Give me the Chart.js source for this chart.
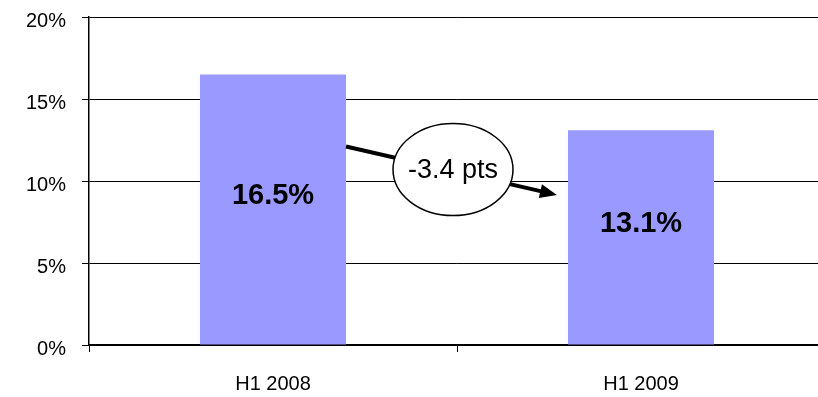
<!DOCTYPE html>
<html>
<head>
<meta charset="utf-8">
<script src="https://cdn.jsdelivr.net/npm/chart.js@4"></script>
<style>
  html, body { margin: 0; padding: 0; background: #fff; overflow: hidden; }
  #wrap { width: 840px; height: 397px; }
</style>
</head>
<body>
<div id="wrap"><canvas id="chart"></canvas></div>
<script>
// Chart data
const categories = ['H1 2008', 'H1 2009'];
const shares = [16.5, 13.1];
const yTicks = [0, 5, 10, 15, 20];
const changeLabel = '-3.4 pts';
// arrow start/end heights and bubble height, in axis units
const arrowFrom = 12.1;
const arrowTo = 9.15;
const bubbleAt = 10.7;

const FONT = "'Liberation Sans', Arial, sans-serif";

// Draws value labels, the change bubble and the arrow
const annotations = {
    id: 'annotations',
    afterDatasetsDraw(chart) {
        const ctx = chart.ctx;
        const y = chart.scales.y;
        const bars = chart.getDatasetMeta(0).data;

        // value labels inside bars
        ctx.save();
        ctx.fillStyle = '#000';
        ctx.font = 'bold 29px ' + FONT;
        ctx.textAlign = 'center';
        ctx.textBaseline = 'middle';
        bars.forEach((bar, i) => {
            const mid = (bar.y + bar.base) / 2 - 13;
            ctx.fillText(shares[i].toFixed(1) + '%', bar.x, mid);
        });
        ctx.restore();

        // arrow between bars
        const b1 = bars[0], b2 = bars[1];
        const x0 = b1.x + b1.width / 2;
        const y0 = y.getPixelForValue(arrowFrom);
        const x1 = b2.x - b2.width / 2 - 11;
        const y1 = y.getPixelForValue(arrowTo);
        const ang = Math.atan2(y1 - y0, x1 - x0);
        const headLen = 17, headW = 7;
        ctx.save();
        ctx.strokeStyle = '#000';
        ctx.fillStyle = '#000';
        ctx.lineWidth = 4;
        ctx.beginPath();
        ctx.moveTo(x0, y0);
        ctx.lineTo(x1 - Math.cos(ang) * headLen * 0.8, y1 - Math.sin(ang) * headLen * 0.8);
        ctx.stroke();
        ctx.beginPath();
        ctx.moveTo(x1, y1);
        ctx.lineTo(x1 - Math.cos(ang) * headLen - Math.sin(ang) * headW,
                   y1 - Math.sin(ang) * headLen + Math.cos(ang) * headW);
        ctx.lineTo(x1 - Math.cos(ang) * headLen + Math.sin(ang) * headW,
                   y1 - Math.sin(ang) * headLen - Math.cos(ang) * headW);
        ctx.closePath();
        ctx.fill();
        ctx.restore();

        // bubble
        const cx = (b1.x + b2.x) / 2 - 4;
        const cy = y.getPixelForValue(bubbleAt);
        ctx.save();
        ctx.beginPath();
        ctx.ellipse(cx, cy, 60, 46, 0, 0, Math.PI * 2);
        ctx.fillStyle = '#fff';
        ctx.fill();
        ctx.lineWidth = 1.5;
        ctx.strokeStyle = '#000';
        ctx.stroke();
        ctx.font = '27px ' + FONT;
        ctx.textAlign = 'center';
        ctx.textBaseline = 'middle';
        ctx.fillStyle = '#000';
        const w = ctx.measureText(changeLabel).width;
        ctx.translate(cx, cy + 1);
        ctx.scale(90 / w, 1);
        ctx.fillText(changeLabel, 0, 0);
        ctx.restore();
    }
};

new Chart(document.getElementById('chart'), {
    type: 'bar',
    data: {
        labels: categories,
        datasets: [{
            data: shares,
            backgroundColor: '#9999FF',
            borderWidth: 0,
            barPercentage: 0.397,
            categoryPercentage: 1
        }]
    },
    options: {
        responsive: true,
        maintainAspectRatio: false,
        animation: false,
        layout: { padding: { top: 17, right: 15, left: 0, bottom: 0 } },
        plugins: {
            legend: { display: false },
            tooltip: { enabled: false }
        },
        scales: {
            x: {
                grid: {
                    display: true,
                    drawOnChartArea: false,
                    color: '#000',
                    tickLength: 7,
                    offset: true
                },
                border: { color: '#000', width: 2 },
                ticks: {
                    color: '#000',
                    font: { family: FONT, size: 20 },
                    padding: 20
                },
                afterFit(scale) { scale.height = 52; }
            },
            y: {
                min: 0,
                max: 20,
                afterBuildTicks(scale) {
                    scale.ticks = yTicks.map(v => ({ value: v }));
                },
                grid: {
                    color: '#000',
                    lineWidth: 1,
                    tickLength: 7
                },
                border: { color: '#000', width: 1.5 },
                ticks: {
                    color: '#000',
                    font: { family: FONT, size: 20, lineHeight: 0.45 },
                    padding: 16,
                    callback: v => ['', v + '%']
                },
                afterFit(scale) {
                    scale.width = 89;
                    scale.paddingTop = 0;
                    scale.paddingBottom = 0;
                }
            }
        }
    },
    plugins: [annotations]
});
</script>
</body>
</html>
